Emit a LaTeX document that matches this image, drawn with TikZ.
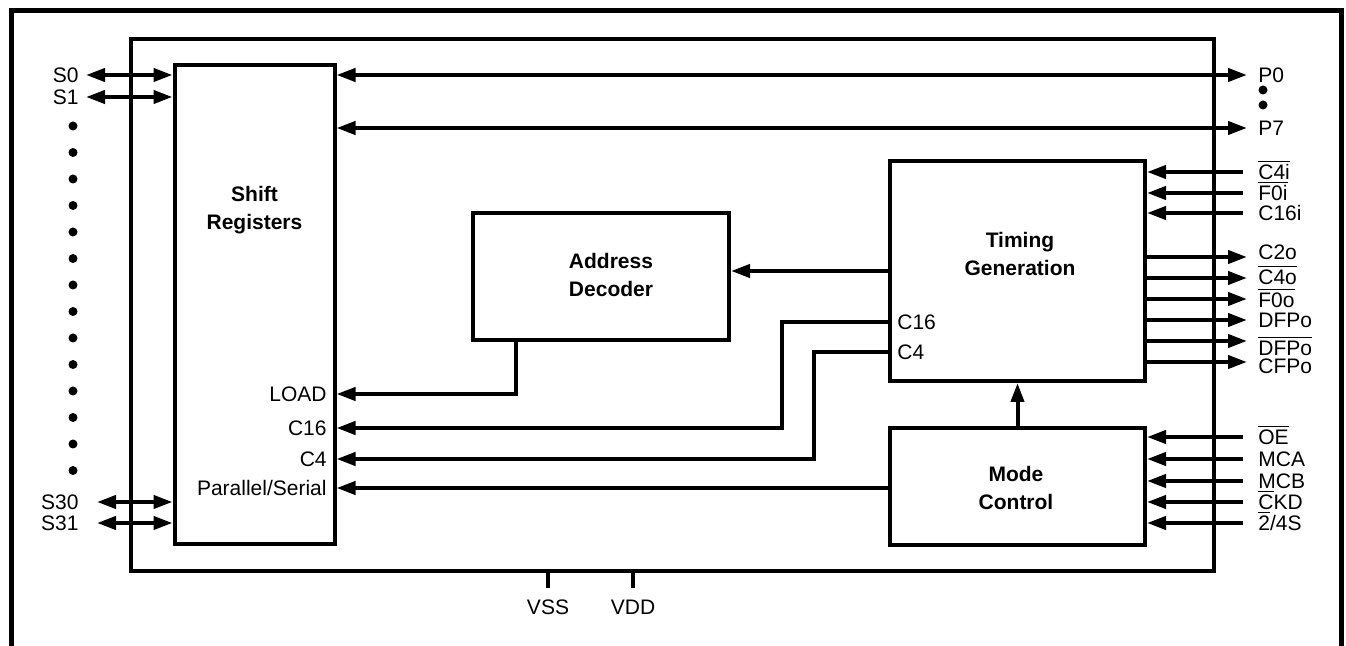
\documentclass[tikz,border=0pt]{standalone}
\usepackage{fontspec, tikz}
\setmainfont{Liberation Sans}
\usetikzlibrary{arrows.meta}
\newcommand\ovl[1]{\sbox0{#1}\rlap{\rule[8.6pt]{\wd0}{0.8pt}}\usebox0}

\begin{document}
\begin{tikzpicture}[x=0.5pt, y=-0.5pt,
    font=\fontsize{10.5}{12}\selectfont,
    blk/.style={draw, line width=2pt, inner sep=0pt},
    wire/.style={line width=2pt},
    sig/.style={wire, -{Triangle[length=9.5pt, width=6.5pt]}},
    bus/.style={wire, {Triangle[length=9.5pt, width=6.5pt]}-{Triangle[length=9.5pt, width=6.5pt]}},
    lbl/.style={inner sep=0pt, text height=7.5pt, text depth=0pt},
    title/.style={font=\fontsize{10.5}{14}\selectfont\bfseries, align=center}]
    \useasboundingbox (0,0) rectangle (1346,646);
    \draw[line width=2.5pt] (11.5,700) -- (11.5,11) -- (1341.5,11) -- (1341.5,700);
    \node[blk, minimum width=541.5pt, minimum height=266pt] (chip) at (672.5,305) {};
    \node[blk, minimum width=80pt, minimum height=239.75pt] (shift) at (254.5,304.75) {};
    \node[blk, minimum width=128pt, minimum height=63.5pt] (addr) at (601,276.5) {};
    \node[blk, minimum width=127.5pt, minimum height=110pt] (timing) at (1017.5,271) {};
    \node[blk, minimum width=127.5pt, minimum height=58.5pt] (mode) at (1017.5,486.5) {};
    \node[title] (shiftname) at (254.5,210) {Shift\\Registers};
    \node[title] (addrname) at (611,275) {Address\\Decoder};
    \node[title] (timingname) at (1020,254) {Timing\\Generation};
    \node[title] (modename) at (1016,488) {Mode\\Control};
    \node[lbl, anchor=east] (load) at (327,394) {LOAD};
    \node[lbl, anchor=east] (c16s) at (327,428) {C16};
    \node[lbl, anchor=east] (c4s) at (327,459) {C4};
    \node[lbl, anchor=east] (ps) at (327,488) {Parallel/Serial};
    \node[lbl, anchor=west] (c16t) at (897,322) {C16};
    \node[lbl, anchor=west] (c4t) at (897,352) {C4};
    \draw[sig] (timing.west) -- (timing.west -| addr.east);
    \draw[sig] (mode.north) -- (timing.south);
    \draw[sig] (ps -| mode.west) -- (ps -| shift.east);
    \draw[sig] (516,0 |- addr.south) |- (load -| shift.east);
    \draw[sig] (c16t -| timing.west) -| (782,0 |- c16s) -- (c16s -| shift.east);
    \draw[sig] (c4t -| timing.west) -| (814,0 |- c4s) -- (c4s -| shift.east);
    \foreach \n/\y/\x/\txt in {s0/75/86/S0, s1/97/86/S1, s30/502/97/S30, s31/523/97/S31} {
        \coordinate (\n) at (\x,\y);
        \node[lbl, anchor=east] (\n t) at (79,\y) {\txt};
        \draw[bus] (\n) -- (\n -| shift.west);
    }
    \foreach \i in {0,...,13}
        \fill (73,126+26.5*\i) circle (2.25pt);
    \foreach \n/\y/\txt in {p0/75/P0, p7/128/P7} {
        \coordinate (\n) at (1247,\y);
        \node[lbl, anchor=west] (\n t) at (1258,\y) {\txt};
        \draw[bus] (\n -| shift.east) -- (\n);
    }
    \fill (1263,90) circle (2.25pt) (1263,105) circle (2.25pt);
    \foreach \n/\y/\txt in {c4i/172/\ovl{C4i}, f0i/193/\ovl{F0i}, c16i/213/C16i} {
        \coordinate (\n) at (1243,\y);
        \node[lbl, anchor=west] (\n t) at (1258,\y) {\txt};
        \draw[sig] (\n) -- (\n -| timing.east);
    }
    \foreach \n/\y/\ly/\txt in {c2o/257/252/C2o, c4o/278/277/\ovl{C4o}, f0o/299/300/\ovl{F0o}, dfpo/320/320/DFPo, dfpob/341/348/\ovl{DFPo}, cfpo/362/366/CFPo} {
        \coordinate (\n) at (1247,\y);
        \node[lbl, anchor=west] (\n t) at (1258,\ly) {\txt};
        \draw[sig] (\n -| timing.east) -- (\n);
    }
    \foreach \n/\y/\txt in {oe/437/\ovl{OE}, mca/459/MCA, mcb/481/MCB, ckd/502/{\ovl{C}KD}, dual/523/{\ovl{2}/4S}} {
        \coordinate (\n) at (1243,\y);
        \node[lbl, anchor=west] (\n t) at (1258,\y) {\txt};
        \draw[sig] (\n) -- (\n -| mode.east);
    }
    \foreach \n/\x/\txt in {vss/548/VSS, vdd/633/VDD} {
        \node[lbl] (\n) at (\x,607) {\txt};
        \draw[wire] (\n |- chip.south) -- ([yshift=5.5pt]\n.north);
    }
\end{tikzpicture}
\end{document}
